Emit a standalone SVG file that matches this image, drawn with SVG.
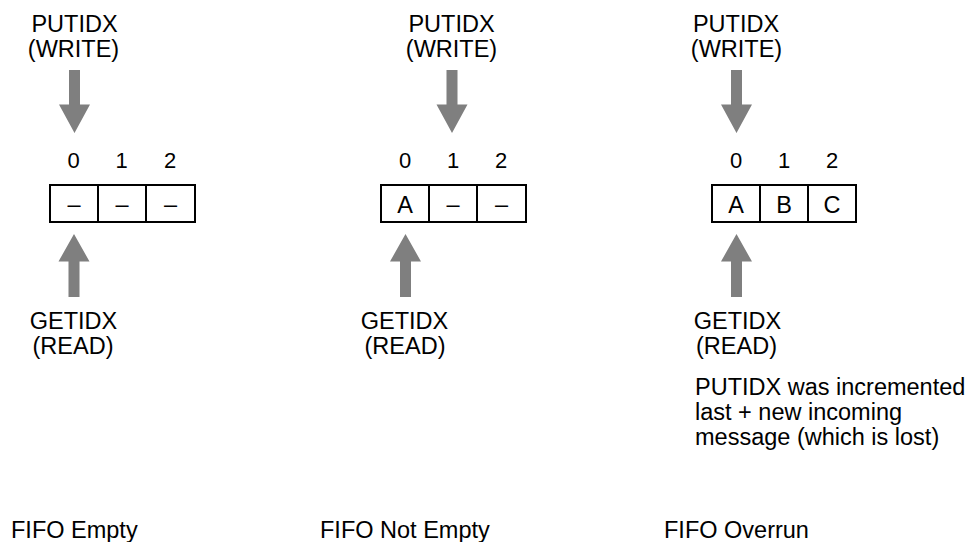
<svg xmlns="http://www.w3.org/2000/svg" xmlns:xlink="http://www.w3.org/1999/xlink" width="971" height="542" viewBox="0 0 971 542">
<style>
text { font-family: "Liberation Sans", Arial, Helvetica, sans-serif; font-size: 23.5px; fill: #000; }
.c { text-anchor: middle; }
.idx { font-size: 22px; text-anchor: middle; }
.cell { fill: #fff; stroke: #000; stroke-width: 2; }
.div { stroke: #000; stroke-width: 2; }
.arr { fill: #7f7f7f; }
</style>
<defs>
<path id="down" class="arr" d="M-5.5,70 H5.5 V104.5 H15.5 L0,133 L-15.5,104.5 H-5.5 Z"/>
<path id="up" class="arr" d="M0,234 L15.5,261.5 H5.5 V297 H-5.5 V261.5 H-15.5 Z"/>
</defs>
<rect width="971" height="542" fill="#fff"/>

<g id="connectors">
<use xlink:href="#down" href="#down" x="74.5"/>
<use xlink:href="#up" href="#up" x="74"/>
<use xlink:href="#down" href="#down" x="452"/>
<use xlink:href="#up" href="#up" x="405.5"/>
<use xlink:href="#down" href="#down" x="736.5"/>
<use xlink:href="#up" href="#up" x="736.5"/>
</g>

<g id="empty">
<text class="c" x="74.5" y="32">PUTIDX</text>
<text class="c" x="73.5" y="57">(WRITE)</text>
<text class="idx" x="73.5" y="168">0</text>
<text class="idx" x="121.5" y="168">1</text>
<text class="idx" x="170" y="168">2</text>
<rect class="cell" x="50" y="185" width="145" height="37"/>
<line class="div" x1="98" y1="185" x2="98" y2="222"/>
<line class="div" x1="146" y1="185" x2="146" y2="222"/>
<text class="c" x="74" y="212">–</text>
<text class="c" x="122" y="212">–</text>
<text class="c" x="170.5" y="212">–</text>
<text class="c" x="73.5" y="329">GETIDX</text>
<text class="c" x="73" y="354">(READ)</text>
<text x="11" y="537.5">FIFO Empty</text>
</g>

<g id="not-empty">
<text class="c" x="451.5" y="32">PUTIDX</text>
<text class="c" x="451.5" y="57">(WRITE)</text>
<text class="idx" x="405" y="168">0</text>
<text class="idx" x="453" y="168">1</text>
<text class="idx" x="501" y="168">2</text>
<rect class="cell" x="381" y="185" width="145" height="37"/>
<line class="div" x1="429" y1="185" x2="429" y2="222"/>
<line class="div" x1="477" y1="185" x2="477" y2="222"/>
<text class="c" x="405" y="213">A</text>
<text class="c" x="453" y="212">–</text>
<text class="c" x="501.5" y="212">–</text>
<text class="c" x="404.5" y="329">GETIDX</text>
<text class="c" x="405" y="354">(READ)</text>
<text x="320" y="537.5">FIFO Not Empty</text>
</g>

<g id="overrun">
<text class="c" x="736" y="32">PUTIDX</text>
<text class="c" x="736.5" y="57">(WRITE)</text>
<text class="idx" x="736" y="168">0</text>
<text class="idx" x="784" y="168">1</text>
<text class="idx" x="832" y="168">2</text>
<rect class="cell" x="712" y="185" width="144" height="37"/>
<line class="div" x1="760" y1="185" x2="760" y2="222"/>
<line class="div" x1="808" y1="185" x2="808" y2="222"/>
<text class="c" x="736" y="213">A</text>
<text class="c" x="784" y="213">B</text>
<text class="c" x="832" y="213">C</text>
<text class="c" x="737.5" y="329">GETIDX</text>
<text class="c" x="736.5" y="354">(READ)</text>
<text x="695" y="395">PUTIDX was incremented</text>
<text x="695" y="420">last + new incoming</text>
<text x="695" y="445">message (which is lost)</text>
<text x="664" y="537.5">FIFO Overrun</text>
</g>
</svg>
